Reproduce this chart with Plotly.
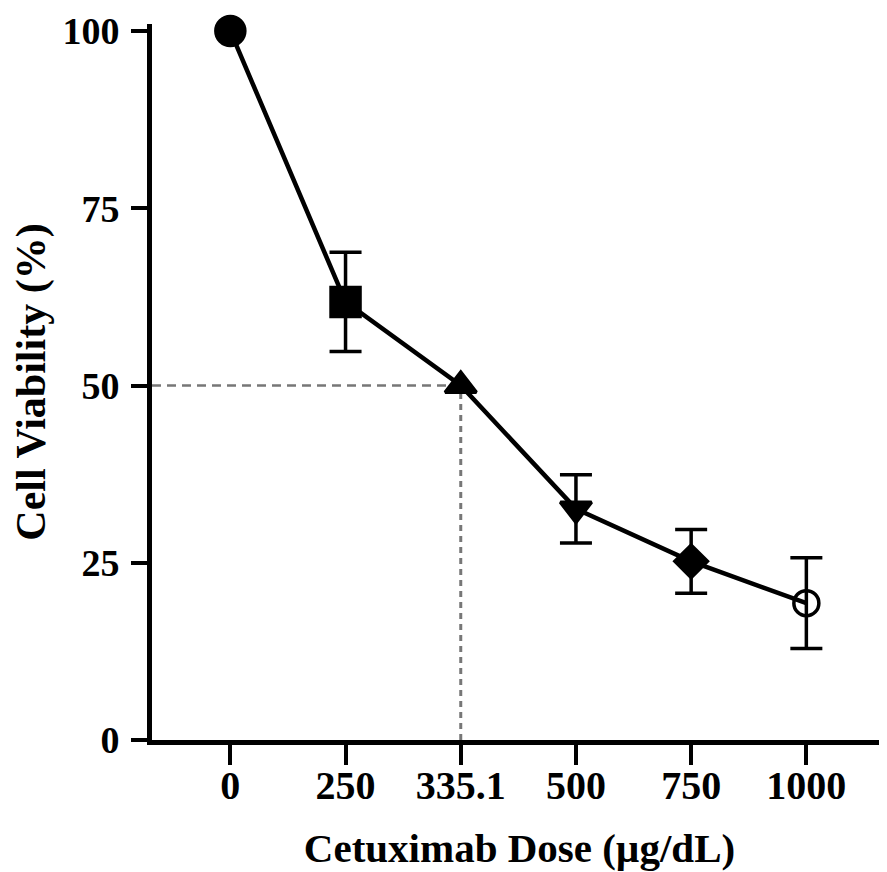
import plotly.graph_objects as go

doses = ["0", "250", "335.1", "500", "750", "1000"]
viability = [100, 61.8, 50, 32.6, 25.2, 19.3]
sd = [None, 7.0, None, 4.8, 4.5, 6.4]
symbols = ["circle", "square", "triangle-up", "triangle-down", "diamond", "circle-open"]
sizes = [29, 29, 27, 27, 25, 25]
ic50_value = 50
ic50_dose = "335.1"
y_ticks = [0, 25, 50, 75, 100]

xi = list(range(len(doses)))
ic50_idx = doses.index(ic50_dose)
x_range = [-0.68, len(doses) - 0.3]

FONT = "Liberation Serif"

fig = go.Figure()

# IC50 dashed guide lines
fig.add_trace(go.Scatter(
    x=[x_range[0], ic50_idx], y=[ic50_value, ic50_value], mode="lines",
    line=dict(color="#777777", width=2.5, dash="9px,6px"),
    hoverinfo="skip", showlegend=False, cliponaxis=False))
fig.add_trace(go.Scatter(
    x=[ic50_idx, ic50_idx], y=[0, ic50_value], mode="lines",
    line=dict(color="#777777", width=3, dash="6px,5px"),
    hoverinfo="skip", showlegend=False, cliponaxis=False))

# error bars
ex = [xi[i] for i in range(len(doses)) if sd[i] is not None]
ey = [viability[i] for i in range(len(doses)) if sd[i] is not None]
ee = [sd[i] for i in range(len(doses)) if sd[i] is not None]
fig.add_trace(go.Scatter(
    x=ex, y=ey, mode="markers", marker=dict(size=1, color="rgba(0,0,0,0)"),
    error_y=dict(type="data", array=ee, visible=True, color="black", thickness=3.5, width=16),
    hoverinfo="skip", showlegend=False, cliponaxis=False))

# main line
fig.add_trace(go.Scatter(
    x=xi, y=viability, mode="lines",
    line=dict(color="black", width=4.5),
    hoverinfo="skip", showlegend=False, cliponaxis=False))

# markers
fig.add_trace(go.Scatter(
    x=xi, y=viability, mode="markers",
    marker=dict(symbol=symbols, size=sizes, color="#000000", opacity=1,
                line=dict(color="#000000", width=3.5)),
    showlegend=False, cliponaxis=False))

fig.update_layout(
    template="none",
    width=879, height=864,
    margin=dict(l=144, r=0, t=16, b=132),
    paper_bgcolor="white", plot_bgcolor="white",
    font=dict(family=FONT, color="black"),
    xaxis=dict(
        automargin=False,
        range=x_range, tickmode="array", tickvals=xi, ticktext=doses,
        showgrid=False, zeroline=False,
        showline=True, linecolor="black", linewidth=5,
        ticks="outside", ticklen=20, tickwidth=4, tickcolor="black",
        tickfont=dict(family=FONT, size=40, color="black", weight="bold"),
        ticklabelstandoff=-14, ticklabeloverflow="allow",
        title=dict(text="<b>Cetuximab Dose (µg/dL)</b>", font=dict(family=FONT, size=41, color="black"),
                   standoff=28),
    ),
    yaxis=dict(
        automargin=False,
        range=[0, 101], tickmode="array", tickvals=y_ticks,
        showgrid=False, zeroline=False,
        showline=True, linecolor="black", linewidth=5,
        ticks="outside", ticklen=16, tickwidth=4, tickcolor="black",
        tickfont=dict(family=FONT, size=38, color="black", weight="bold"),
        ticklabelstandoff=4, ticklabeloverflow="allow",
        title=dict(text="<b>Cell Viability (%)</b>", font=dict(family=FONT, size=42, color="black"),
                   standoff=16),
    ),
)

fig.write_html("out.html")
